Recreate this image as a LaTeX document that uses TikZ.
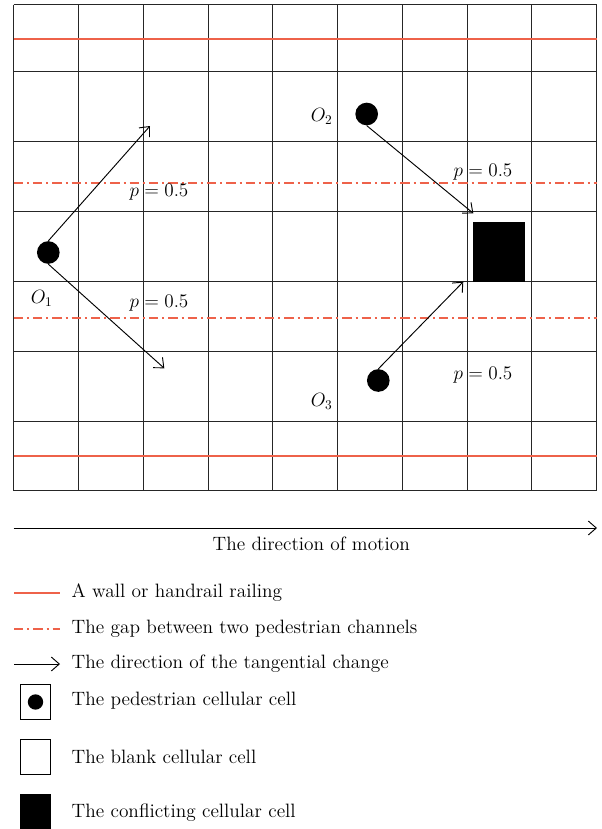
\documentclass[tikz,border=0pt]{standalone}
\usepackage{tikz}
\usetikzlibrary{arrows.meta, positioning}
\definecolor{wallred}{RGB}{238,98,74}

\begin{document}
\begin{tikzpicture}[
  x=0.75pt, y=-0.75pt,
  every node/.style={font=\fontsize{14.5}{17}\selectfont},
  gridline/.style={line width=0.95pt, black!85},
  wall/.style={line width=1.1pt, wallred},
  gapline/.style={line width=1pt, wallred, dash pattern=on 7pt off 3pt on 1.5pt off 3pt},
  arr/.style={-{Straight Barb[length=6pt, width=10.5pt]}, line width=0.7pt},
  ped/.style={circle, fill=black, minimum size=17pt, inner sep=0pt},
  conflict/.style={rectangle, fill=black, minimum width=39.5pt, minimum height=45pt, inner sep=0pt},
  cellbox/.style={draw, line width=0.9pt, minimum width=22.5pt, minimum height=26.25pt, inner sep=0pt},
  legtext/.style={anchor=west},
]
\useasboundingbox (0,0) rectangle (602,829);

%% ── GRID ──────────────────────────────────────────────────────────────
\foreach \c in {13.5,78.5,143.5,208.5,272.5,337.5,402.5,467.5,531.5,596.5}
  \draw[gridline] (\c,4.5) -- (\c,490.5);
\foreach \r in {4.5,71.5,141.5,211.5,281.5,351.5,421.5,490.5}
  \draw[gridline] (13.5,\r) -- (596.5,\r);

%% ── WALLS AND CHANNEL GAPS ────────────────────────────────────────────
\draw[wall] (13.5,39) -- (596.5,39);
\draw[wall] (13.5,456) -- (596.5,456);
\draw[gapline] (13.5,183) -- (596.5,183);
\draw[gapline] (13.5,318) -- (596.5,318);

%% ── PEDESTRIANS / CONFLICT CELL ───────────────────────────────────────
\node[ped] (o1) at (48.3,252.5) {};
\node[ped] (o2) at (366.7,114) {};
\node[ped] (o3) at (378.3,380.5) {};
\node[conflict] (conf) at (499,251.7) {};

\node (o1lbl) at (41.7,298)  {$O_1$};
\node (o2lbl) at (321.7,116) {$O_2$};
\node (o3lbl) at (321.7,401) {$O_3$};

\coordinate (t1up) at (150,126);
\coordinate (t1dn) at (164.3,368.3);
\coordinate (t2)   at (473.3,213.3);
\coordinate (t3)   at (463.3,281.7);

%% ── TANGENTIAL CHANGES ────────────────────────────────────────────────
\draw[arr] (o1.north) -- (t1up);
\draw[arr] (o1.south) -- (t1dn);
\draw[arr] (o2.south) -- (t2);
\draw[arr] (o3.north) -- (t3);

\node (p1) at (159,192)   {$p = 0.5$};
\node (p2) at (159,303)   {$p = 0.5$};
\node (p3) at (483,172)   {$p = 0.5$};
\node (p4) at (483,375)   {$p = 0.5$};

%% ── DIRECTION OF MOTION ───────────────────────────────────────────────
\coordinate (m0) at (13.5,528);
\coordinate (m1) at (597,528);
\draw[arr] (m0) -- node[below=3pt, xshift=4.5pt] (motion) {The direction of motion} (m1);

%% ── LEGEND ────────────────────────────────────────────────────────────
\coordinate (lw0) at (14,593);  \coordinate (lw1) at (60,593);
\coordinate (lg0) at (14,629);  \coordinate (lg1) at (60,629);
\coordinate (la0) at (14,664);  \coordinate (la1) at (60,664);
\draw[wall] (lw0) -- (lw1);
\draw[gapline] (lg0) -- (lg1);
\draw[arr] (la0) -- (la1);

\node[cellbox] (lped) at (35.5,702) {};
\node[ped, minimum size=11.5pt] (ldot) at (lped) {};
\node[cellbox] (lblank) at (35.5,757) {};
\node[cellbox, fill=black] (lconf) at (35.5,812.5) {};

\node[legtext] (twall)  at (67,593)   {A wall or handrail railing};
\node[legtext] (tgap)   at (67,629)   {The gap between two pedestrian channels};
\node[legtext] (tarr)   at (67,664)   {The direction of the tangential change};
\node[legtext] (tped)   at (67,701)   {The pedestrian cellular cell};
\node[legtext] (tblank) at (67,756.7) {The blank cellular cell};
\node[legtext] (tconf)  at (67,813)   {The conflicting cellular cell};

\end{tikzpicture}
\end{document}
